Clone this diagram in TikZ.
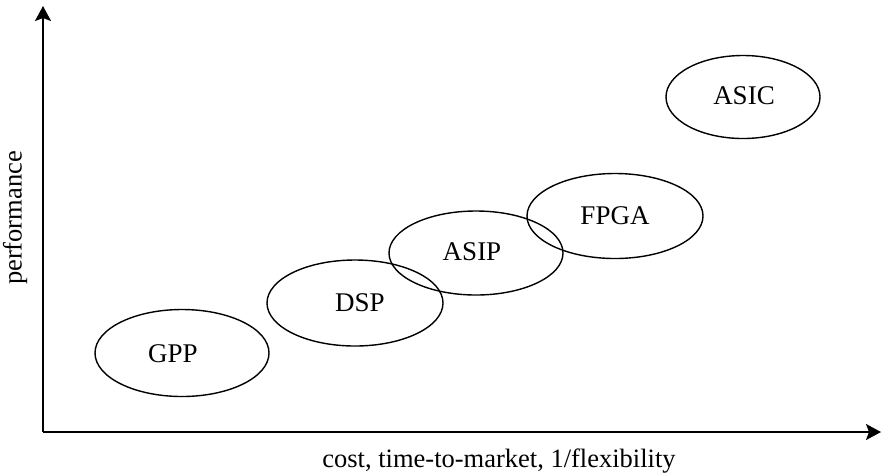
\documentclass[tikz,border=0pt]{standalone}
\usepackage{fontspec}
\setmainfont{Liberation Serif}
\usetikzlibrary{arrows.meta,shapes.geometric}
\begin{document}
\begin{tikzpicture}[x=1pt,y=-1pt,
  axis/.style={line width=1.8pt,-{Stealth[length=15pt,width=16pt,inset=3pt]}},
  chip/.style={draw,line width=1.4pt,ellipse,inner sep=0pt},
  tag/.style={font=\fontsize{27}{30}\selectfont},
  lbl/.style={font=\fontsize{26.5}{30}\selectfont}]
\useasboundingbox (0,0) rectangle (882,475);
\coordinate (o) at (43,432);
\coordinate (ytop) at (43,6);
\coordinate (xend) at (881,432);
\draw[axis] (o) -- (ytop);
\draw[axis] (o) -- (xend);
% the five platform ellipses, each with its name
\node[chip,minimum width=174pt,minimum height=87pt] (gpp) at (182,353) {};
\node[tag] (gppt) at (173,354) {GPP};
\node[chip,minimum width=176pt,minimum height=86pt] (dsp) at (355,303) {};
\node[tag] (dspt) at (360,303) {DSP};
\node[chip,minimum width=174pt,minimum height=84pt] (asip) at (476,253) {};
\node[tag] (asipt) at (472,252) {ASIP};
\node[chip,minimum width=176pt,minimum height=85pt] (fpga) at (615,216) {};
\node[tag] (fpgat) at (615,216) {FPGA};
\node[chip,minimum width=154pt,minimum height=83pt] (asic) at (743,97) {};
\node[tag] (asict) at (744,96) {ASIC};
\node[lbl,rotate=90] (ylab) at (15,218) {performance};
\node[lbl] (xlab) at (499,461) {cost, time-to-market, 1/flexibility};
\end{tikzpicture}
\end{document}
